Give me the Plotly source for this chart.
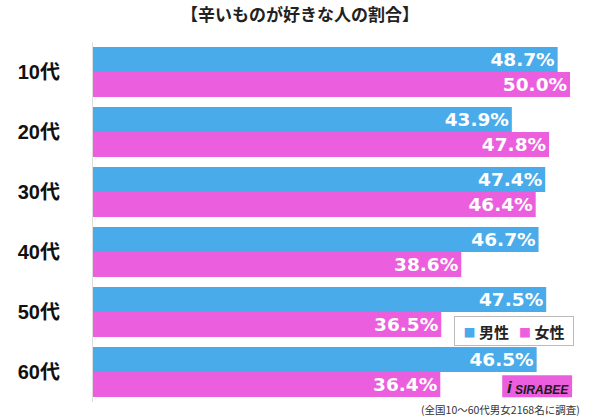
import plotly.graph_objects as go

categories = ["10代", "20代", "30代", "40代", "50代", "60代"]
male = [48.7, 43.9, 47.4, 46.7, 47.5, 46.5]
female = [50.0, 47.8, 46.4, 38.6, 36.5, 36.4]
series_names = ["男性", "女性"]
title_text = "【辛いものが好きな人の割合】"
note_text = "(全国10～60代男女2168名に調査)"

BLUE = "#4AABEA"
PINK = "#EB5EDD"
COLORS = [BLUE, PINK]
NUM_FONT = "DejaVu Sans, Noto Sans CJK JP"
LBL_FONT = "Liberation Sans, Arial, Noto Sans CJK JP"
JP_FONT = "Noto Sans CJK JP, Liberation Sans"

fig = go.Figure()
for name, vals, col in zip(series_names, [male, female], COLORS):
    fig.add_trace(go.Bar(
        y=categories, x=vals, name=name, orientation="h",
        marker=dict(color=col, line=dict(width=0)),
        text=[f"{v:.1f}%" for v in vals],
        textposition="inside", insidetextanchor="end",
        textfont=dict(color="white", size=18.5, family=NUM_FONT, weight="bold"),
        cliponaxis=False, hoverinfo="skip",
    ))

fig.update_layout(
    width=600, height=420,
    margin=dict(l=93, r=25, t=42, b=18, autoexpand=False),
    paper_bgcolor="white", plot_bgcolor="white",
    barmode="group", bargap=0.167, bargroupgap=0,
    uniformtext=dict(minsize=18, mode="show"),
    showlegend=False,
    title=dict(
        text=title_text, x=0.5, xanchor="center", y=1 - 15 / 420, yanchor="middle",
        font=dict(size=17, family=JP_FONT, color="#222222", weight="bold"),
    ),
    xaxis=dict(range=[0, 50.52], visible=False, fixedrange=True, automargin=False),
    yaxis=dict(
        autorange="reversed", showgrid=False, zeroline=False, automargin=False,
        showline=True, linecolor="#DDDDDD", linewidth=1,
        ticks="", ticklabelstandoff=28,
        tickfont=dict(size=20, family=LBL_FONT, color="#111111", weight="bold"),
    ),
)

# legend box (built from series names / colours)
legend_html = "&nbsp;&nbsp;&nbsp;".join(
    f"<span style='color:{c};font-size:12px'>■</span>&nbsp;{n}"
    for n, c in zip(series_names, COLORS)
)
fig.add_annotation(xref="paper", yref="paper", x=0.8734, y=0.196,
                   xanchor="center", yanchor="middle", text=legend_html,
                   showarrow=False, bgcolor="white", bordercolor="#BBBBBB",
                   borderwidth=1, borderpad=4, width=110, height=20,
                   font=dict(size=15, family=JP_FONT, color="#222222", weight="bold"))

# SIRABEE logo placeholder
fig.add_shape(type="rect", xref="paper", yref="paper",
              x0=0.849, x1=0.994, y0=0.013, y1=0.074,
              fillcolor=PINK, line=dict(width=0), layer="above")
fig.add_annotation(xref="paper", yref="paper", x=0.932, y=0.034,
                   xanchor="center", yanchor="middle",
                   text="<b><i>SIRABEE</i></b>", showarrow=False,
                   font=dict(size=12, family=LBL_FONT, color="#1A1A1A"))
fig.add_annotation(xref="paper", yref="paper", x=0.866, y=0.040,
                   xanchor="center", yanchor="middle",
                   text="<b><i>i</i></b>", showarrow=False,
                   font=dict(size=17, family=LBL_FONT, color="#1A1A1A"))

fig.add_annotation(xref="paper", yref="paper", x=1.0145, y=-0.021,
                   xanchor="right", yanchor="middle", text=note_text,
                   showarrow=False,
                   font=dict(size=10.5, family=JP_FONT, color="#333333"))

fig.write_html("out.html", config={"displayModeBar": False},
               post_script="document.body.style.margin='0';document.body.style.overflow='hidden';")
